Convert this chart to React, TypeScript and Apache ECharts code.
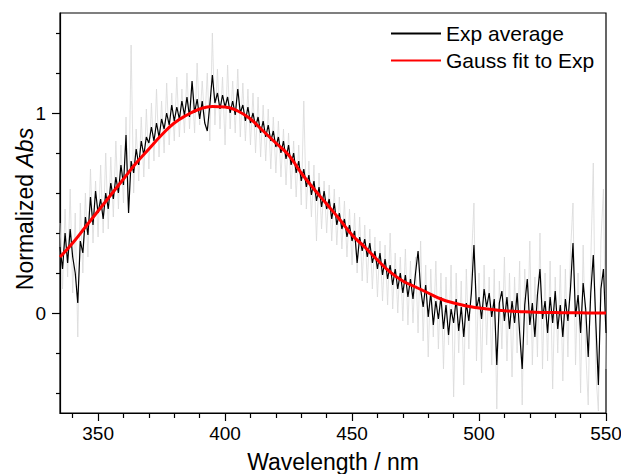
import React, { useEffect, useRef } from "react";
import * as echarts from "echarts";

// Wavelength grid of the measured spectra (1 nm steps from 335 nm)
const START_NM = 335;

// Averaged experimental spectrum (black), 335..550 nm
const expAverage = [
  0.33, 0.22, 0.40, 0.25, 0.42, 0.28, 0.20, 0.05, 0.36, 0.30, // 335-344
  0.48, 0.39, 0.58, 0.44, 0.61, 0.50, 0.57, 0.47, 0.60, 0.52, // 345-354
  0.65, 0.57, 0.68, 0.60, 0.74, 0.64, 0.89, 0.50, 0.76, 0.70, // 355-364
  0.82, 0.74, 0.86, 0.79, 0.88, 0.85, 0.93, 0.86, 0.95, 0.88, // 365-374
  0.97, 0.92, 1.00, 0.94, 1.04, 0.96, 1.03, 0.97, 1.06, 0.99, // 375-384
  1.08, 0.98, 1.16, 1.00, 1.07, 0.97, 1.06, 0.95, 0.91, 1.04, // 385-394
  1.19, 1.05, 1.10, 1.02, 1.09, 1.03, 1.08, 1.00, 1.06, 0.99, // 395-404
  1.12, 1.00, 1.04, 0.96, 1.03, 0.95, 1.00, 0.93, 0.98, 0.90, // 405-414
  0.96, 0.88, 0.94, 0.86, 0.91, 0.83, 0.88, 0.80, 0.86, 0.77, // 415-424
  0.84, 0.74, 0.80, 0.70, 0.76, 0.66, 0.72, 0.63, 0.69, 0.59, // 425-434
  0.66, 0.56, 0.63, 0.53, 0.61, 0.52, 0.57, 0.47, 0.55, 0.44, // 435-444
  0.50, 0.42, 0.47, 0.38, 0.44, 0.36, 0.41, 0.25, 0.38, 0.31, // 445-454
  0.37, 0.28, 0.35, 0.25, 0.31, 0.22, 0.30, 0.19, 0.27, 0.17, // 455-464
  0.24, 0.14, 0.22, 0.12, 0.20, 0.10, 0.19, 0.08, 0.17, 0.07, // 465-474
  0.20, 0.31, 0.12, 0.03, 0.14, -0.02, 0.10, -0.06, 0.06, -0.03, // 475-484
  0.08, -0.08, 0.04, -0.11, 0.02, -0.05, 0.07, -0.09, 0.03, -0.12, // 485-494
  0.05, -0.04, 0.10, 0.34, 0.02, 0.08, -0.03, 0.12, 0.03, 0.10, // 495-504
  -0.02, 0.07, -0.26, 0.05, 0.11, -0.04, 0.08, -0.08, 0.06, -0.05, // 505-514
  0.10, -0.10, -0.28, 0.04, 0.17, -0.06, 0.05, -0.12, 0.09, 0.22, // 515-524
  -0.03, 0.06, -0.10, 0.08, -0.05, 0.11, -0.08, 0.04, -0.12, 0.07, // 525-534
  -0.04, 0.12, 0.35, -0.02, 0.09, -0.10, 0.15, 0.02, -0.22, 0.10, // 535-544
  0.29, -0.05, -0.36, 0.12, 0.22, -0.10, // 545-550
];

// Individual experimental spectra envelope (light grey), 335..550 nm
const expIndividual = [
  0.45, 0.12, 0.52, 0.18, 0.62, 0.10, 0.50, -0.12, 0.55, 0.20, // 335-344
  0.60, 0.28, 0.72, 0.35, 0.66, 0.38, 0.74, 0.40, 0.80, 0.42, // 345-354
  0.78, 0.48, 0.86, 0.52, 0.84, 0.55, 0.98, 0.50, 1.34, 0.60, // 355-364
  0.92, 0.66, 0.98, 0.68, 1.02, 0.72, 1.05, 0.76, 1.12, 0.78, // 365-374
  1.06, 0.80, 1.15, 0.84, 1.10, 0.86, 1.18, 0.88, 1.12, 0.90, // 375-384
  1.20, 0.92, 1.15, 0.90, 1.25, 0.94, 1.16, 0.95, 1.20, 0.86, // 385-394
  1.40, 0.94, 1.22, 0.92, 1.18, 0.84, 1.24, 0.92, 1.16, 0.90, // 395-404
  1.22, 0.88, 1.15, 0.86, 1.12, 0.84, 1.10, 0.80, 1.08, 0.78, // 405-414
  1.04, 0.76, 1.02, 0.72, 0.98, 0.70, 0.96, 0.68, 0.92, 0.64, // 415-424
  0.90, 0.62, 0.86, 0.58, 0.84, 0.54, 1.06, 0.52, 0.76, 0.48, // 425-434
  0.74, 0.36, 0.70, 0.42, 0.66, 0.40, 0.64, 0.36, 0.62, 0.34, // 435-444
  0.58, 0.32, 0.56, 0.28, 0.52, 0.24, 0.50, 0.20, 0.48, 0.16, // 445-454
  0.44, 0.15, 0.42, 0.12, 0.38, 0.08, 0.36, 0.06, 0.34, 0.04, // 455-464
  0.40, 0.02, 0.30, 0.00, 0.28, -0.04, 0.32, -0.06, 0.26, -0.05, // 465-474
  0.28, -0.10, 0.36, -0.14, 0.24, -0.22, 0.22, -0.12, 0.26, -0.18, // 475-484
  0.20, -0.28, 0.18, -0.16, 0.24, -0.42, 0.20, -0.20, 0.16, -0.36, // 485-494
  0.22, -0.18, 0.26, 0.55, -0.24, 0.20, -0.30, 0.24, -0.16, 0.18, // 495-504
  -0.26, 0.22, -0.48, 0.16, -0.18, 0.28, -0.24, 0.20, -0.32, 0.18, // 505-514
  -0.20, 0.26, -0.46, 0.22, -0.16, 0.36, -0.26, 0.18, -0.22, 0.40, // 515-524
  -0.28, 0.20, -0.24, 0.26, -0.38, 0.18, -0.20, 0.24, -0.34, 0.22, // 525-534
  -0.22, 0.30, 0.55, -0.26, 0.20, -0.40, 0.34, -0.18, -0.46, 0.26, // 535-544
  0.75, -0.30, -0.49, 0.36, 0.62, -0.28, // 545-550
];

// Gaussian fit, read every 5 nm
const fitNm = [
  335, 340, 345, 350, 355, 360, 365, 370, 375, 380, 385, 390, 395, 400, 405,
  410, 415, 420, 425, 430, 435, 440, 445, 450, 455, 460, 465, 470, 475, 480,
  485, 490, 495, 500, 505, 510, 515, 520, 525, 530, 535, 540, 545, 550,
];
const fitVals = [
  0.28, 0.35, 0.43, 0.51, 0.59, 0.67, 0.75, 0.82, 0.89, 0.95, 0.99, 1.02, 1.033,
  1.03, 1.01, 0.97, 0.91, 0.85, 0.79, 0.70, 0.62, 0.545, 0.47, 0.39, 0.33,
  0.265, 0.205, 0.16, 0.13, 0.10, 0.07, 0.05, 0.035, 0.025, 0.017, 0.011,
  0.007, 0.005, 0.003, 0.002, 0.001, 0.001, 0.0, 0.0,
];

const xMajorTicks = [350, 400, 450, 500, 550];
const xMinorTicks = [340, 360, 370, 380, 390, 410, 420, 430, 440, 460, 470, 480, 490, 510, 520, 530, 540];
const yMajorTicks = [0, 1];
const yMinorTicks = [-0.4, -0.2, 0.2, 0.4, 0.6, 0.8, 1.2, 1.4];

const FONT = "'Liberation Sans', Arial, sans-serif";

export default function App() {
  const ref = useRef<HTMLDivElement>(null);

  useEffect(() => {
    if (!ref.current) return;
    const chart = echarts.init(ref.current, null, { renderer: "svg" });

    const avgData = expAverage.map((v, i) => [START_NM + i, v]);
    const indData = expIndividual.map((v, i) => [START_NM + i, v]);
    const fitData = fitNm.map((x, i) => [x, fitVals[i]]);

    const baseX = {
      type: "value" as const,
      min: 335,
      max: 550,
      position: "bottom" as const,
      splitLine: { show: false },
    };
    const baseY = {
      type: "value" as const,
      min: -0.5,
      max: 1.5,
      position: "left" as const,
      splitLine: { show: false },
    };
    const tickLine = { color: "#000", width: 1.2 };

    chart.setOption({
      animation: false,
      backgroundColor: "#ffffff",
      textStyle: { fontFamily: FONT },
      grid: {
        left: 60,
        right: 15,
        top: 13,
        bottom: 61,
        outerBoundsMode: "none",
        containLabel: false,
        show: true,
        borderColor: "#000",
        borderWidth: 1.2,
        backgroundColor: "transparent",
      },
      legend: {
        orient: "vertical",
        left: 385,
        top: 18,
        itemWidth: 50,
        itemHeight: 14,
        itemGap: 6,
        itemStyle: { opacity: 0 },
        data: ["Exp average", "Gauss fit to Exp"],
        textStyle: { fontSize: 21, color: "#000", fontFamily: FONT },
      },
      xAxis: [
        {
          ...baseX,
          name: "Wavelength / nm",
          nameLocation: "middle",
          nameGap: 37,
          nameMoveOverlap: false,
          nameTextStyle: { fontSize: 23, color: "#000", fontFamily: FONT },
          axisLine: { show: true, onZero: false, lineStyle: tickLine },
          axisTick: { show: true, customValues: xMajorTicks, length: 8, lineStyle: tickLine },
          axisLabel: { show: true, customValues: xMajorTicks, fontSize: 19, color: "#000", margin: 11, fontFamily: FONT },
        },
        {
          ...baseX,
          axisLine: { show: false, onZero: false },
          axisTick: { show: true, customValues: xMinorTicks, length: 5, lineStyle: tickLine },
          axisLabel: { show: false },
        },
      ],
      yAxis: [
        {
          ...baseY,
          name: "Normalized {i|Abs}",
          nameLocation: "middle",
          nameGap: 24,
          nameMoveOverlap: false,
          nameTextStyle: {
            fontSize: 23,
            color: "#000",
            fontFamily: FONT,
            padding: [0, 0, 0, 8],
            rich: { i: { fontSize: 23, fontStyle: "italic", color: "#000", fontFamily: FONT } },
          },
          axisLine: { show: true, onZero: false, lineStyle: tickLine },
          axisTick: { show: true, customValues: yMajorTicks, length: 8, lineStyle: tickLine },
          axisLabel: { show: true, customValues: yMajorTicks, fontSize: 19, color: "#000", margin: 14, fontFamily: FONT },
        },
        {
          ...baseY,
          axisLine: { show: false, onZero: false },
          axisTick: { show: true, customValues: yMinorTicks, length: 4, lineStyle: tickLine },
          axisLabel: { show: false },
        },
      ],
      series: [
        {
          name: "Exp individual",
          type: "line",
          data: indData,
          symbol: "none",
          lineStyle: { color: "#d9d9d9", width: 0.8 },
          z: 1,
          silent: true,
        },
        {
          name: "Exp average",
          type: "line",
          data: avgData,
          symbol: "none",
          color: "#000",
          lineStyle: { color: "#000", width: 1.2 },
          z: 2,
        },
        {
          name: "Gauss fit to Exp",
          type: "line",
          data: fitData,
          symbol: "none",
          smooth: true,
          color: "#ff0000",
          lineStyle: { color: "#ff0000", width: 3 },
          z: 3,
        },
      ],
    });

    return () => chart.dispose();
  }, []);

  return (
    <div
      ref={ref}
      style={{ position: "fixed", left: 0, top: 0, width: 621, height: 474 }}
    />
  );
}
